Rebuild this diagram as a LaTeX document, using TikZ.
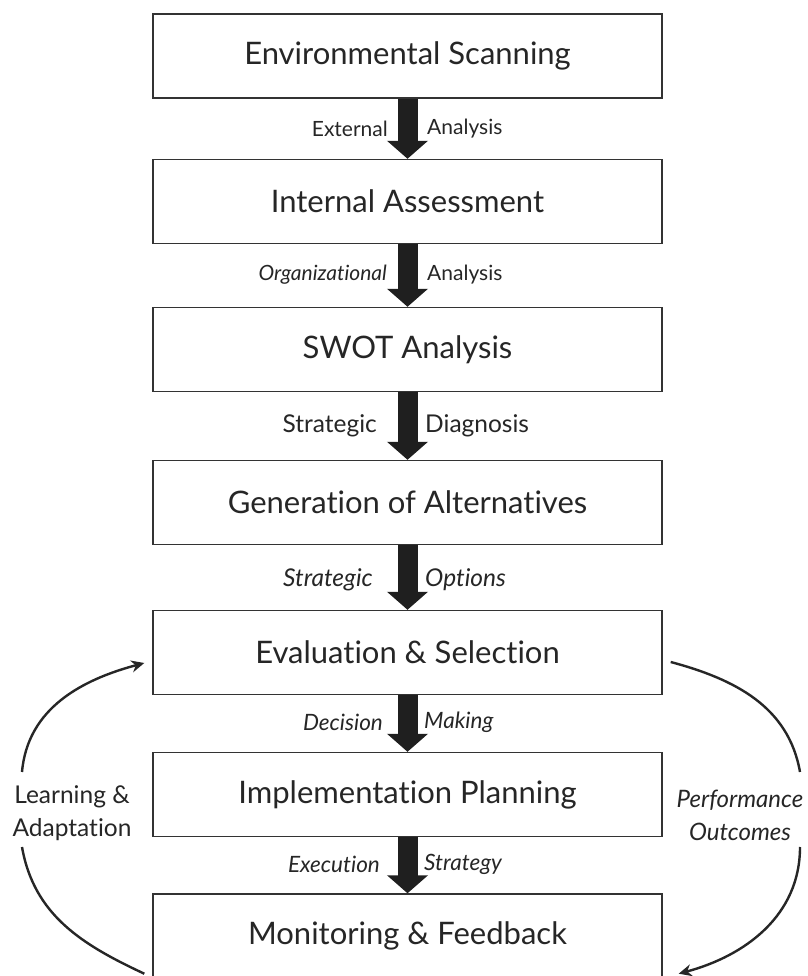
\documentclass[tikz,border=0pt]{standalone}
\usepackage{fontspec}
\setmainfont{Lato}[Ligatures=NoCommon]
\usetikzlibrary{arrows.meta}

\begin{document}
\begin{tikzpicture}[x=1pt,y=1pt,
	stage/.style={draw=black!80,line width=1.4pt,minimum width=509pt,minimum height=84pt,inner sep=0pt,font=\fontsize{31}{36}\selectfont,text=black!85},
	flow/.style={draw=black!88,line width=20pt,-{Triangle[width=40pt,length=18pt]}},
	lbl/.style={font=\fontsize{21}{24}\selectfont,text=black!85,inner sep=0pt},
	biglbl/.style={lbl,font=\fontsize{24.5}{28}\selectfont},
	sidelbl/.style={font=\fontsize{24.5}{33}\selectfont,align=center,text=black!85,inner sep=0pt},
	cycleline/.style={draw=black!85,line width=2.4pt},
	cycletip/.style={-{Stealth[length=13pt,width=12pt]}}]
					\useasboundingbox[fill=white] (0,0) rectangle (807,976);
					% stages
					\node[stage] (env) at (407.5,920) {Environmental Scanning};
					\node[stage] (int) at (407.5,774.5) {Internal Assessment};
					\node[stage] (swot) at (407.5,626.5) {SWOT Analysis};
					\node[stage] (gen) at (407.5,473.5) {Generation of Alternatives};
					\node[stage] (eval) at (407.5,323.5) {Evaluation \& Selection};
					\node[stage] (impl) at (407.5,181.5) {Implementation Planning};
					\node[stage] (mon) at (407.5,40) {Monitoring \& Feedback};
					% main flow
					\draw[flow] (env) -- (int);
					\draw[flow] (int) -- (swot);
					\draw[flow] (swot) -- (gen);
					\draw[flow] (gen) -- (eval);
					\draw[flow] (eval) -- (impl);
					\draw[flow] (impl) -- (mon);
					% flow labels
					\node[lbl,anchor=east] (ext) at (388,847) {External};
					\node[lbl,anchor=west] (exta) at (427,847) {Analysis};
					\node[lbl,anchor=east] (org) at (387,701.5) {\itshape Organizational};
					\node[lbl,anchor=west] (orga) at (427,701.5) {Analysis};
					\node[biglbl,anchor=east] (strat) at (377,550.5) {Strategic};
					\node[biglbl,anchor=west] (diag) at (425,550.5) {Diagnosis};
					\node[biglbl,anchor=east] (opt) at (373,396) {\itshape Strategic};
					\node[biglbl,anchor=west] (opta) at (425,396) {\itshape Options};
					\node[lbl,font=\fontsize{22.5}{26}\selectfont,anchor=east] (dec) at (383,253.5) {\itshape Decision};
					\node[lbl,font=\fontsize{22.5}{26}\selectfont,anchor=west] (deca) at (424,253.5) {\itshape Making};
					\node[lbl,font=\fontsize{22.5}{26}\selectfont,anchor=east] (exe) at (380,111.5) {\itshape Execution};
					\node[lbl,font=\fontsize{22.5}{26}\selectfont,anchor=west] (exea) at (424,111.5) {\itshape Strategy};
					% feedback loops
					\node[sidelbl] (learn) at (72,163) {Learning \&\\Adaptation};
					\node[sidelbl,font=\fontsize{24}{33}\selectfont\itshape] (perf) at (740,161) {Performance\\Outcomes};
					\coordinate (learnfrom) at ([xshift=-8pt,yshift=5pt]mon.south west);
					\coordinate (learnbot) at (22,129);
					\coordinate (learntop) at (22,204);
					\coordinate (learnto) at ([xshift=-8pt,yshift=-10.5pt]eval.west);
					\coordinate (perffrom) at ([xshift=8pt,yshift=-9.5pt]eval.east);
					\coordinate (perftop) at (800,204);
					\coordinate (perfbot) at (800,129);
					\coordinate (perfto) at ([xshift=16pt,yshift=5pt]mon.south east);
					\draw[cycleline] (learnfrom) to[out=155,in=-80] (learnbot);
					\draw[cycleline,cycletip] (learntop) to[out=85,in=195] (learnto);
					\draw[cycleline] (perffrom) to[out=-15,in=100] (perftop);
					\draw[cycleline,cycletip] (perfbot) to[out=-90,in=15] (perfto);
				\end{tikzpicture}
\end{document}
